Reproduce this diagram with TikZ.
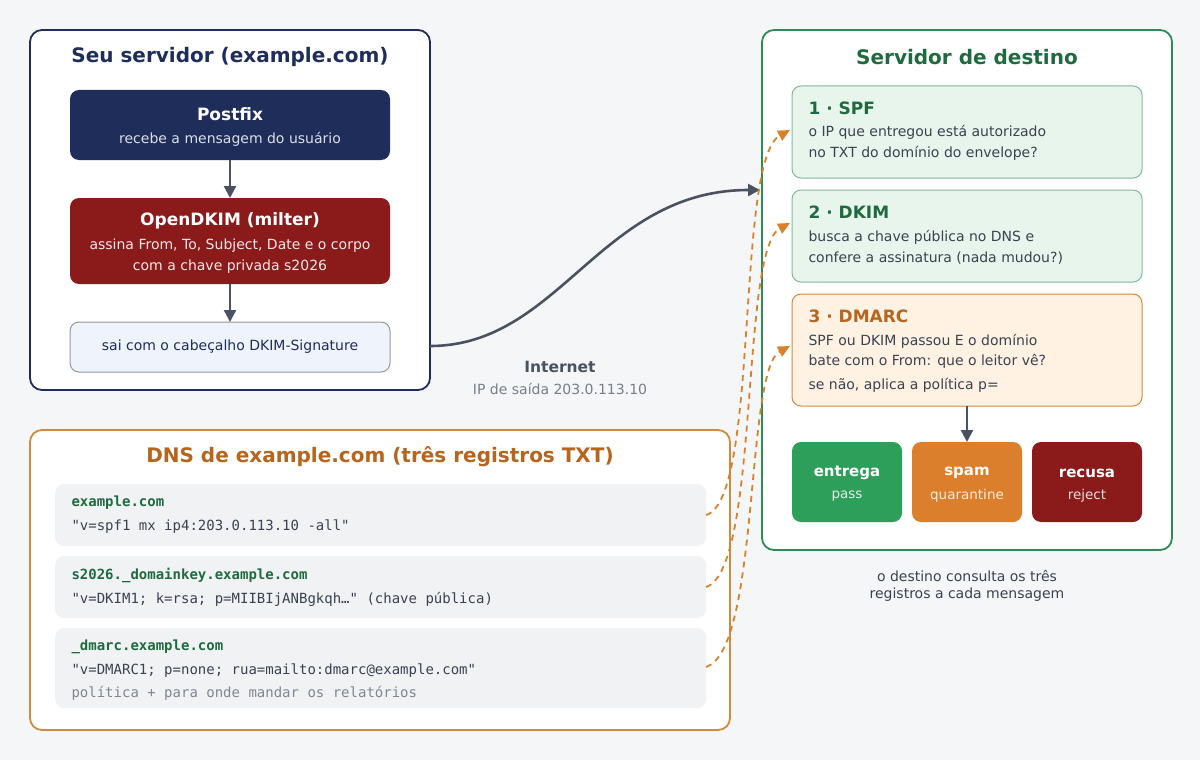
\documentclass[tikz,border=0pt]{standalone}
\usepackage{fontspec}
\setmainfont{DejaVu Sans}
\newfontfamily\monof{DejaVu Sans Mono}
\usetikzlibrary{arrows.meta}
\definecolor{navy}{HTML}{1E2D5A}
\definecolor{dred}{HTML}{8B1A1A}
\definecolor{gfr}{HTML}{2E8B57}
\definecolor{gtx}{HTML}{1F6B3F}
\definecolor{ofr}{HTML}{D08A3E}
\definecolor{otx}{HTML}{B5651D}
\definecolor{bg}{HTML}{F5F6F8}
\definecolor{txt}{HTML}{3A4150}
\definecolor{gray1}{HTML}{4A5262}
\definecolor{dash}{HTML}{D9822B}
\definecolor{okg}{HTML}{2E9E5B}
\definecolor{spo}{HTML}{DC7F2C}
\definecolor{recbg}{HTML}{F0F2F4}
\definecolor{lg}{HTML}{E8F5EC}
\definecolor{lo}{HTML}{FFF2E3}
\definecolor{lb}{HTML}{EEF3FC}
\begin{document}
\begin{tikzpicture}[x=1pt,y=-1pt,
 frame/.style={rounded corners=12pt,line width=1.8pt,fill=white},
 box/.style={rounded corners=9pt},
 ttl/.style={font=\bfseries\fontsize{20}{23}\selectfont},
 bt/.style={font=\bfseries\fontsize{17}{20}\selectfont},
 bd/.style={font=\fontsize{14}{17}\selectfont},
 lt/.style={anchor=west,font=\fontsize{14}{17}\selectfont,text=txt},
 mono/.style={anchor=west,font=\monof\fontsize{14}{17}\selectfont,text=txt},
 monob/.style={anchor=west,font=\monof\bfseries\fontsize{14}{17}\selectfont,text=gtx},
 cb/.style={text=white,font=\bfseries\fontsize{15}{18}\selectfont},
 cs/.style={font=\fontsize{13.5}{16}\selectfont},
 arr/.style={-{Triangle[length=12pt,width=12pt]},line width=2.4pt,draw=gray1},
 darr/.style={-{Triangle[length=12pt,width=11pt]},line width=1.8pt,draw=dash,dash pattern=on 6pt off 5pt,fill=none}]
\fill[bg] (0,0) rectangle (1200,760);
% left server
\draw[frame,draw=navy] (30,30) rectangle (430,390);
\node[ttl,text=navy] (t1) at (230,57) {Seu servidor (example.com)};
\fill[box,navy] (70,90) rectangle (390,160);
\node[bt,text=white] (pf) at (230,114) {Postfix};
\node[bd,text=white!85!navy] (pf2) at (230,139) {recebe a mensagem do usuário};
\fill[box,dred] (70,198) rectangle (390,284);
\node[bt,text=white] (od) at (230,221) {OpenDKIM (milter)};
\node[bd,text=white!90!dred] (od2) at (230,246) {assina From, To, Subject, Date e o corpo};
\node[bd,text=white!90!dred] (od3) at (230,267) {com a chave privada s2026};
\draw[box,fill=lb,draw=gray1!60,line width=1pt] (70,322) rectangle (390,372);
\node[bd,text=navy] (sai) at (230,347) {sai com o cabeçalho DKIM-Signature};
\coordinate (a1) at (230,160); \coordinate (a2) at (230,198);
\coordinate (a3) at (230,284); \coordinate (a4) at (230,322);
\draw[arr] (a1) -- (a2);
\draw[arr] (a3) -- (a4);
% internet
\node[font=\bfseries\fontsize{15.5}{18}\selectfont,text=gray1] (inet) at (560,367) {Internet};
\node[bd,text=gray1!75] (ip) at (560,389) {IP de saída 203.0.113.10};
% right server
\draw[frame,draw=gfr] (762,30) rectangle (1172,550);
\node[ttl,text=gtx] (t2) at (967,57) {Servidor de destino};
\draw[box,fill=lg,draw=gfr!60,line width=1pt] (792,86) rectangle (1142,178);
\node[bt,text=gtx,anchor=west] (spf) at (805,108) {1 · SPF};
\node[lt] (spf1) at (805,132) {o IP que entregou está autorizado};
\node[lt] (spf2) at (805,153) {no TXT do domínio do envelope?};
\draw[box,fill=lg,draw=gfr!60,line width=1pt] (792,190) rectangle (1142,282);
\node[bt,text=gtx,anchor=west] (dk) at (805,212) {2 · DKIM};
\node[lt] (dk1) at (805,237) {busca a chave pública no DNS e};
\node[lt] (dk2) at (805,258) {confere a assinatura (nada mudou?)};
\draw[box,fill=lo,draw=ofr,line width=1pt] (792,294) rectangle (1142,406);
\node[bt,text=otx,anchor=west] (dm) at (805,316) {3 · DMARC};
\node[lt] (dm1) at (805,341) {SPF ou DKIM passou E o domínio};
\node[lt] (dm2) at (805,361) {bate com o From: que o leitor vê?};
\node[lt] (dm3) at (805,385) {se não, aplica a política p=};
\coordinate (b1) at (967,406); \coordinate (b2) at (967,442);
\draw[arr] (b1) -- (b2);
\fill[box,okg] (792,442) rectangle (902,522);
\node[cb] (e1) at (847,473) {entrega};
\node[cs,text=white!85!okg] (e2) at (847,496) {pass};
\fill[box,spo] (912,442) rectangle (1022,522);
\node[cb] (s1) at (967,473) {spam};
\node[cs,text=white!85!spo] (s2) at (967,496) {quarantine};
\fill[box,dred] (1032,442) rectangle (1142,522);
\node[cb] (r1) at (1087,473) {recusa};
\node[cs,text=white!85!dred] (r2) at (1087,496) {reject};
\node[bd,text=txt] (c1) at (967,576) {o destino consulta os três};
\node[bd,text=txt] (c2) at (967,595) {registros a cada mensagem};
% DNS
\draw[frame,draw=ofr] (30,430) rectangle (730,730);
\node[ttl,text=otx] (t3) at (380,457) {DNS de example.com (três registros TXT)};
\fill[box,recbg] (55,484) rectangle (706,546);
\node[monob] (k1) at (68,503) {example.com};
\node[mono] (v1) at (68,527) {"v=spf1 mx ip4:203.0.113.10 -all"};
\fill[box,recbg] (55,556) rectangle (706,618);
\node[monob] (k2) at (68,575) {s2026.\_domainkey.example.com};
\node[mono] (v2) at (68,599) {"v=DKIM1; k=rsa; p=MIIBIjANBgkqh…" (chave pública)};
\fill[box,recbg] (55,628) rectangle (706,708);
\node[monob] (k3) at (68,647) {\_dmarc.example.com};
\node[mono] (v3) at (68,671) {"v=DMARC1; p=none; rua=mailto:dmarc@example.com"};
\node[mono,text=gray1!70] (v4) at (68,693) {política + para onde mandar os relatórios};
% connectors
\coordinate (o1) at (430,346); \coordinate (i1) at (760,190);
\draw[arr,line width=2.6pt] (o1) .. controls (560,346) and (600,190) .. (i1);
\coordinate (d1) at (706,515); \coordinate (e1p) at (790,130);
\coordinate (d2) at (706,587); \coordinate (e2p) at (790,223);
\coordinate (d3) at (706,667); \coordinate (e3p) at (790,346);
\draw[darr] (d1) .. controls (760,500) and (735,160) .. (e1p);
\draw[darr] (d2) .. controls (760,570) and (740,250) .. (e2p);
\draw[darr] (d3) .. controls (760,650) and (745,370) .. (e3p);
\end{tikzpicture}
\end{document}
